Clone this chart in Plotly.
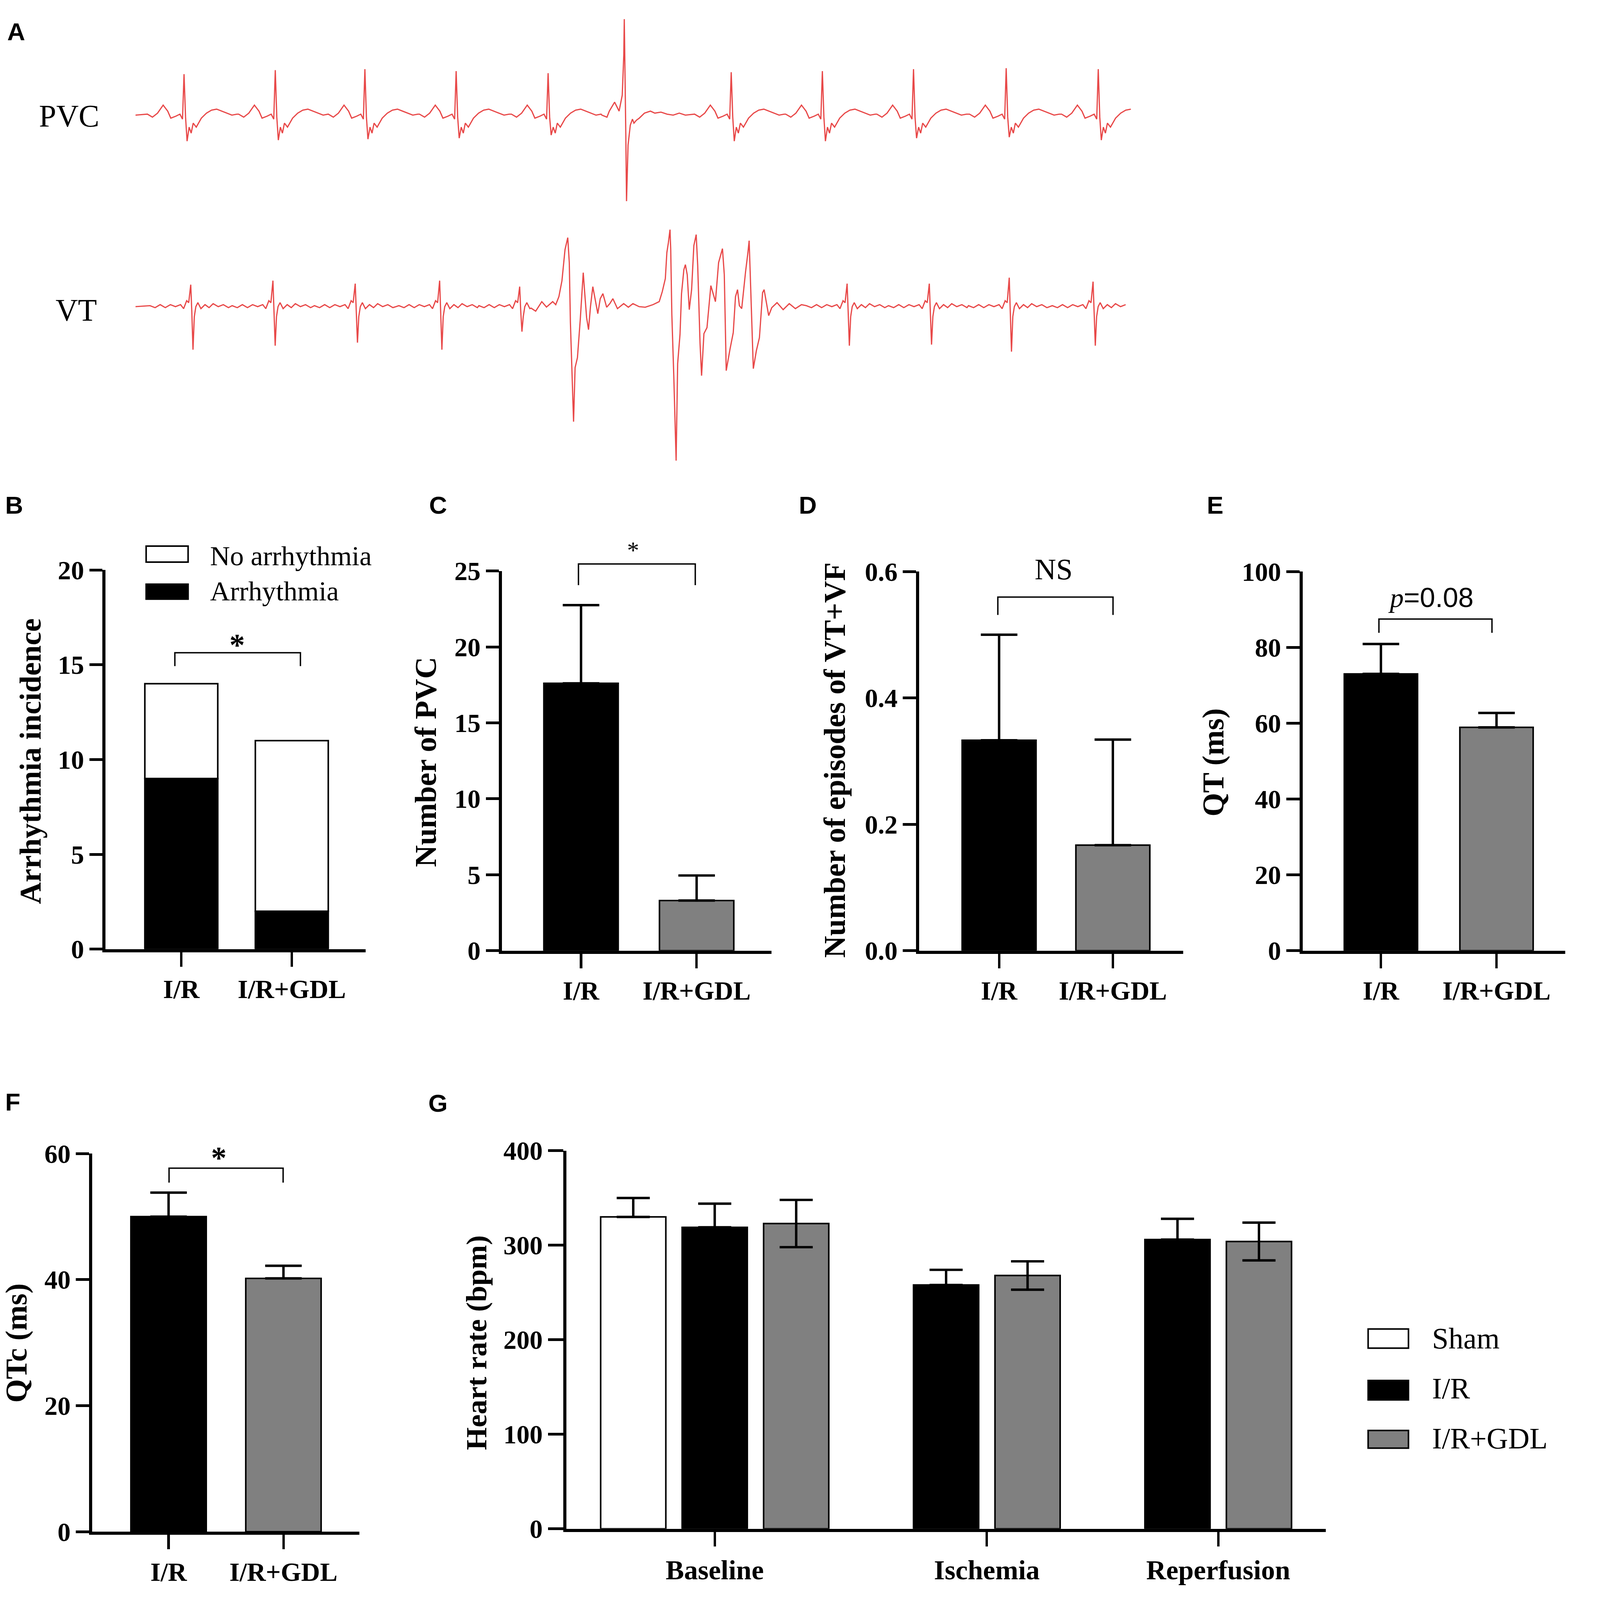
import plotly.graph_objects as go

# ---------------- panel A: ECG strips ----------------
# time in ms from the start of each strip, amplitude in a.u. (isoelectric line = 0)
pvc_beat_t = [47.7, 137.3, 225.3, 314.9, 405.2, 585.0, 674.5, 764.0, 855.0, 945.4]
pvc_beat_r = [41, 45, 46, 44, 42, 43, 44, 46, 47, 46]
pvc_beat_s = [-26, -25, -24, -23, -20, -26, -26, -23, -22, -25]
# one sinus beat of the PVC strip, R and S filled per beat
pvc_tmpl_dt = [-36, -31, -26, -20.5, -16, -13, -8, -4, -1.5, 0, 1.5, 3, 5, 7, 9, 12, 17, 22, 27, 32, 37, 42, 47, 52]
pvc_tmpl_a = [1, -2, 2, 10, 4, -3, -1, 1, -4, "R", -2, "S", -12, -18, -8, -12, -3, 2, 5, 6, 4, 2, 0, 1]
# the premature ventricular complex
ectopic_t = 480.0
ectopic_dt = [-22, -17, -14.7, -9.5, -5.1, -2, -0.5, 0, 0.8, 1.5, 2.2, 3.0, 3.7, 5.9, 8, 9.5, 12, 14.7, 19.8, 25.7, 30, 36, 42, 48, 54, 60]
ectopic_a = [0, -2, 4, 13, 4, 20, 60, 96, 40, -20, -86, -50, -30, -10, -4, -8, -5, -3, 2, 4, 2, 3, 1, 0, 2, 0]
pvc_end = 982

vt_beat_t = [54.3, 135.0, 215.8, 298.7, 377.3, 698.8, 779.5, 858.0, 940.3]
vt_beat_r = [22, 26, 23, 26, 20, 23, 23, 29, 25]
vt_beat_s = [-43, -39, -36, -43, -25, -39, -38, -45, -39]
vt_tmpl_dt = [-40, -35, -30, -25, -20, -15, -10, -7, -4, -2, 0, 1, 2.2, 3.5, 5, 7, 10, 14, 18, 22, 27, 32, 37]
vt_tmpl_a = [1, -1, 2, -1, 2, 0, 2, -2, 6, 4, "R", -4, "S", -10, 0, 4, -2, 2, -1, 3, 0, 2, -1]
# the run of ventricular tachycardia
run_t = [388.5, 393, 399, 403.6, 409.7, 412.7, 415.8, 418.8, 421.8, 424.5, 426, 427.1, 428.6, 430.2,
         431.7, 434, 436.7, 438.5, 439.7, 441.2, 443, 444.9, 446.8, 449.1, 451.4, 454, 456.4, 459,
         462.7, 465.8, 468.8, 473.3, 479.4, 484, 488.5, 494.6, 500.6, 508.2, 514.3, 517.3, 520.3,
         521.8, 523.3, 524.9, 525.6, 526.7, 528.6, 530.9, 532.4, 534.7, 536.2, 538.5, 540, 541.8,
         543.8, 546.1, 548.3, 550.6, 552.1, 554.4, 555.9, 558.2, 561.2, 565, 569.5, 572.6, 576.4,
         578.2, 580.1, 583.9, 587, 589.2, 591.2, 593, 595.3, 599.1, 601.4, 602.6, 603.6, 606.7,
         609.7, 612.7, 615.8, 617.3, 621.8, 624.8, 630, 636, 642, 648, 654]
run_a = [-1.5, -4.5, 5, -0.4, 5, 2, 10, 26, 57, 69, 44, -16, -60, -115,
         -61, -51, -14, 15, 34, 13, -11, -23, 0, 20, 8, -7, 8, 13,
         -0.6, 3, 8, -2, 3, -0.6, 3, 0, -0.6, 2, 5, 15, 28,
         54, 64, 77, 57, -8, -69, -154, -57, -28, 13, 37, 42, 32,
         -3, 17, 61, 72, 41, -37, -69, -27, -21, 21, 5, 44, 58,
         32, -64, -42, -26, 10, 17, 1, -2, 35, 54, 66, 35, -62,
         -44, -31, 14, 17, -9, -1, 4, -3, 3, -2, 2]
vt_end = 975

# ---------------- panels B-F ----------------
groups = ["I/R", "I/R+GDL"]
arrhythmia = [9, 2]
no_arrhythmia = [5, 9]

pvc_mean = [17.6, 3.3]
pvc_sem = [5.15, 1.65]

vtvf_mean = [0.333, 0.167]
vtvf_sem = [0.167, 0.167]

qt_mean = [73.0, 58.9]
qt_sem = [7.9, 3.8]

qtc_mean = [50.0, 40.2]
qtc_sem = [3.8, 2.0]

# ---------------- panel G ----------------
phases = ["Baseline", "Ischemia", "Reperfusion"]
hr_sham = [330, None, None]
hr_sham_sem = [20, None, None]
hr_ir = [319, 258, 306]
hr_ir_sem = [25, 16, 22]
hr_gdl = [323, 268, 304]
hr_gdl_sem = [25, 15, 20]

BLACK = "black"
GREY = "#808080"
RED = "rgb(232,72,72)"
SERIF = "Liberation Serif"
SANS = "Liberation Sans"
FIG_W, FIG_H = 4562, 4639

# the figure is laid out on a 1545 x 1571 grid (1 unit = 2.953 px)
GX, GY = 1545.0, 1571.0


def px(x):
    return x / GX


def py(y):
    return 1 - y / GY


def strip(beat_t, beat_r, beat_s, tmpl_dt, tmpl_a, extra_t, extra_a, t_end):
    pts = [(0.0, 0.0)]
    for t0, r, s in zip(beat_t, beat_r, beat_s):
        for dt, a in zip(tmpl_dt, tmpl_a):
            t = t0 + dt
            if extra_t[0] <= t <= extra_t[-1]:
                continue
            pts.append((t, r if a == "R" else s if a == "S" else a))
    pts += list(zip(extra_t, extra_a))
    pts = sorted(p for p in pts if 0 <= p[0] <= t_end)
    return [p[0] for p in pts], [p[1] for p in pts]


fig = go.Figure()

pt, pa = strip(pvc_beat_t, pvc_beat_r, pvc_beat_s, pvc_tmpl_dt, pvc_tmpl_a,
               [ectopic_t + d for d in ectopic_dt], ectopic_a, pvc_end)
fig.add_trace(go.Scatter(x=pt, y=pa, mode="lines", line=dict(color=RED, width=3.5),
                         xaxis="x", yaxis="y", showlegend=False))
vt, va = strip(vt_beat_t, vt_beat_r, vt_beat_s, vt_tmpl_dt, vt_tmpl_a, run_t, run_a, vt_end)
fig.add_trace(go.Scatter(x=vt, y=va, mode="lines", line=dict(color=RED, width=3.5),
                         xaxis="x2", yaxis="y2", showlegend=False))

bar_line = dict(color=BLACK, width=4.5)


def err(vals, width=53, minus=None):
    return dict(type="data", array=vals, symmetric=False,
                arrayminus=minus if minus is not None else [0] * len(vals),
                color=BLACK, thickness=7, width=width, visible=True)


# B: stacked incidence
fig.add_trace(go.Bar(x=groups, y=arrhythmia, width=0.66, marker=dict(color=BLACK, line=bar_line),
                     xaxis="x3", yaxis="y3", showlegend=False))
fig.add_trace(go.Bar(x=groups, y=no_arrhythmia, base=arrhythmia, width=0.66,
                     marker=dict(color="white", line=bar_line),
                     xaxis="x3", yaxis="y3", showlegend=False))

# C - F: mean + SEM
for mean, sem, ax, w in [(pvc_mean, pvc_sem, "4", 0.643), (vtvf_mean, vtvf_sem, "5", 0.65),
                         (qt_mean, qt_sem, "6", 0.634), (qtc_mean, qtc_sem, "7", 0.656)]:
    fig.add_trace(go.Bar(x=groups, y=mean, width=w, error_y=err(sem),
                         marker=dict(color=[BLACK, GREY], line=bar_line),
                         xaxis="x" + ax, yaxis="y" + ax, showlegend=False))

# G: bars placed slot by slot, empty Sham slots are dropped
group_gap = 1.84
series = [("Sham", hr_sham, hr_sham_sem, "white", False),
          ("I/R", hr_ir, hr_ir_sem, BLACK, False),
          ("I/R+GDL", hr_gdl, hr_gdl_sem, GREY, True)]
pos = {name: ([], [], []) for name, *_ in series}
tickvals = []
slot = 0.0
for i, ph in enumerate(phases):
    used = []
    for name, vals, sems, col, sym in series:
        if vals[i] is None:
            continue
        pos[name][0].append(slot)
        pos[name][1].append(vals[i])
        pos[name][2].append(sems[i])
        used.append(slot)
        slot += 1
    tickvals.append(sum(used) / len(used))
    slot = used[-1] + group_gap

for name, vals, sems, col, sym in series:
    xs, ys, es = pos[name]
    fig.add_trace(go.Bar(x=xs, y=ys, width=0.8,
                         error_y=err(es, width=48, minus=es if sym else None),
                         marker=dict(color=col, line=bar_line),
                         xaxis="x8", yaxis="y8", showlegend=False, name=name))

tick_font = dict(family=SERIF, size=76, color=BLACK, weight="bold")
cat_font = dict(family=SERIF, size=76, color=BLACK, weight="bold")


def yax(y0, y1, rng, dtick, anchor, fmt=None, ticklen=38):
    return dict(domain=[py(y0), py(y1)], range=rng, dtick=dtick, tick0=0, anchor=anchor,
                showline=True, linecolor=BLACK, linewidth=9, showgrid=False, zeroline=False,
                ticks="outside", ticklen=ticklen, tickwidth=8, tickcolor=BLACK,
                tickfont=tick_font, tickformat=fmt, fixedrange=True)


def xax(x0, x1, rng, anchor, **kw):
    d = dict(domain=[px(x0), px(x1)], range=rng, anchor=anchor,
             showline=True, linecolor=BLACK, linewidth=9, showgrid=False, zeroline=False,
             ticks="outside", ticklen=42, tickwidth=7, tickcolor=BLACK,
             tickfont=cat_font, fixedrange=True)
    d.update(kw)
    return d


hidden = dict(visible=False, showgrid=False, zeroline=False, fixedrange=True)

fig.update_layout(
    width=FIG_W, height=FIG_H, margin=dict(l=0, r=0, t=0, b=0),
    paper_bgcolor="white", plot_bgcolor="white", barmode="overlay", showlegend=False,
    xaxis=dict(hidden, domain=[px(133), px(1115)], range=[0, 982], anchor="y"),
    yaxis=dict(hidden, domain=[py(200), py(0)], range=[-99, 101], anchor="x"),
    xaxis2=dict(hidden, domain=[px(133), px(1115)], range=[0, 982], anchor="y2"),
    yaxis2=dict(hidden, domain=[py(460), py(200)], range=[-167.5, 92.5], anchor="x2"),
    xaxis3=xax(103.6, 359, [-0.686, 1.668], "y3", type="category"),
    yaxis3=yax(935, 555.8, [0, 20], 5, "x3"),
    xaxis4=xax(493, 757.6, [-0.683, 1.648], "y4", type="category"),
    yaxis4=yax(936.5, 556.8, [0, 25], 5, "x4"),
    xaxis5=xax(902.4, 1162, [-0.704, 1.62], "y5", type="category"),
    yaxis5=yax(936.5, 557.4, [0, 0.6], 0.2, "x5", fmt=".1f"),
    xaxis6=xax(1279, 1537, [-0.678, 1.595], "y6", type="category"),
    yaxis6=yax(936.5, 557.4, [0, 100], 20, "x6"),
    xaxis7=xax(90.4, 353, [-0.666, 1.662], "y7", type="category"),
    yaxis7=yax(1517.6, 1139.4, [0, 60], 20, "x7"),
    xaxis8=xax(556, 1302, [-0.8225, 8.5025], "y8", tickmode="array", tickvals=tickvals,
               ticktext=phases, tickfont=dict(family=SERIF, size=80, color=BLACK, weight="bold")),
    yaxis8=yax(1514.6, 1136.6, [0, 400], 100, "x8", ticklen=44),
)


def note(text, x, y, size, bold=False, family=SERIF, angle=0, xanchor="center"):
    return dict(text=text, x=px(x), y=py(y), xref="paper", yref="paper", showarrow=False,
                textangle=angle, xanchor=xanchor, yanchor="middle",
                font=dict(family=family, size=size, color=BLACK, weight="bold" if bold else "normal"))


annotations = []
for letter, x, y in [("A", 16, 17.6), ("B", 14, 490.7), ("C", 430, 490.7), ("D", 793, 490.7),
                     ("E", 1193, 490.7), ("F", 12.4, 1087.7), ("G", 430, 1089)]:
    annotations.append(note(letter, x, y, 72, bold=True, family=SANS))

annotations += [
    note("PVC", 68, 102, 90),
    note("VT", 75, 296, 90),
    note("Arrhythmia incidence", 30, 747, 88, bold=True, angle=-90),
    note("Number of PVC", 418, 748, 88, bold=True, angle=-90),
    note("Number of episodes of VT+VF", 820, 746, 88, bold=True, angle=-90),
    note("QT (ms)", 1191.6, 748, 88, bold=True, angle=-90),
    note("QTc (ms)", 16.2, 1329, 88, bold=True, angle=-90),
    note("Heart rate (bpm)", 467.9, 1328.5, 85, bold=True, angle=-90),
    note("No arrhythmia", 205.6, 542, 80, xanchor="left"),
    note("Arrhythmia", 205.6, 577, 80, xanchor="left"),
    note("Sham", 1405.6, 1324.5, 86, xanchor="left"),
    note("I/R", 1405.6, 1374.4, 86, xanchor="left"),
    note("I/R+GDL", 1405.6, 1424.3, 86, xanchor="left"),
    note("*", 233, 631, 90, bold=True),
    note("*", 621.5, 536, 70),
    note("*", 215, 1144, 90, bold=True),
    note("NS", 1034.7, 555.2, 86),
    note("<span style='font-family:Liberation Serif'><i>p</i></span>=0.08", 1405, 583.5, 80, family=SANS),
]

shapes = []
# significance brackets
for x1, x2, yb, yt in [(171.7, 295, 638.6, 652), (568, 682.7, 549.8, 571), (979.8, 1092.9, 582.9, 600.8),
                       (1354, 1465, 604.9, 618.7), (166, 278, 1154, 1168.5)]:
    path = "M {a},{t} L {a},{b} L {c},{b} L {c},{t}".format(a=px(x1), c=px(x2), b=py(yb), t=py(yt))
    shapes.append(dict(type="path", path=path, xref="paper", yref="paper", line=dict(color=BLACK, width=4)))

# legend swatches
for x0, y0, x1, y1, col in [(143.5, 531.9, 184.7, 548, "white"), (143.5, 570, 184.7, 585, BLACK),
                            (1343.4, 1314.8, 1383, 1334, "white"), (1343.4, 1366.3, 1383, 1385.7, BLACK),
                            (1343.4, 1416.3, 1383, 1434, GREY)]:
    shapes.append(dict(type="rect", xref="paper", yref="paper", x0=px(x0), x1=px(x1), y0=py(y1), y1=py(y0),
                       fillcolor=col, line=dict(color=BLACK, width=4.5)))

fig.update_layout(annotations=annotations, shapes=shapes)

# keep the whole figure inside the browser window
fit_js = """
document.body.style.margin = '0';
document.body.style.overflow = 'hidden';
var gd = document.getElementById('{plot_id}');
var s = Math.min(window.innerWidth / %d, window.innerHeight / %d, 1);
gd.style.transformOrigin = '0 0';
gd.style.transform = 'scale(' + s + ')';
""" % (FIG_W, FIG_H)

fig.write_html("out.html", post_script=fit_js, config={"displayModeBar": False})
